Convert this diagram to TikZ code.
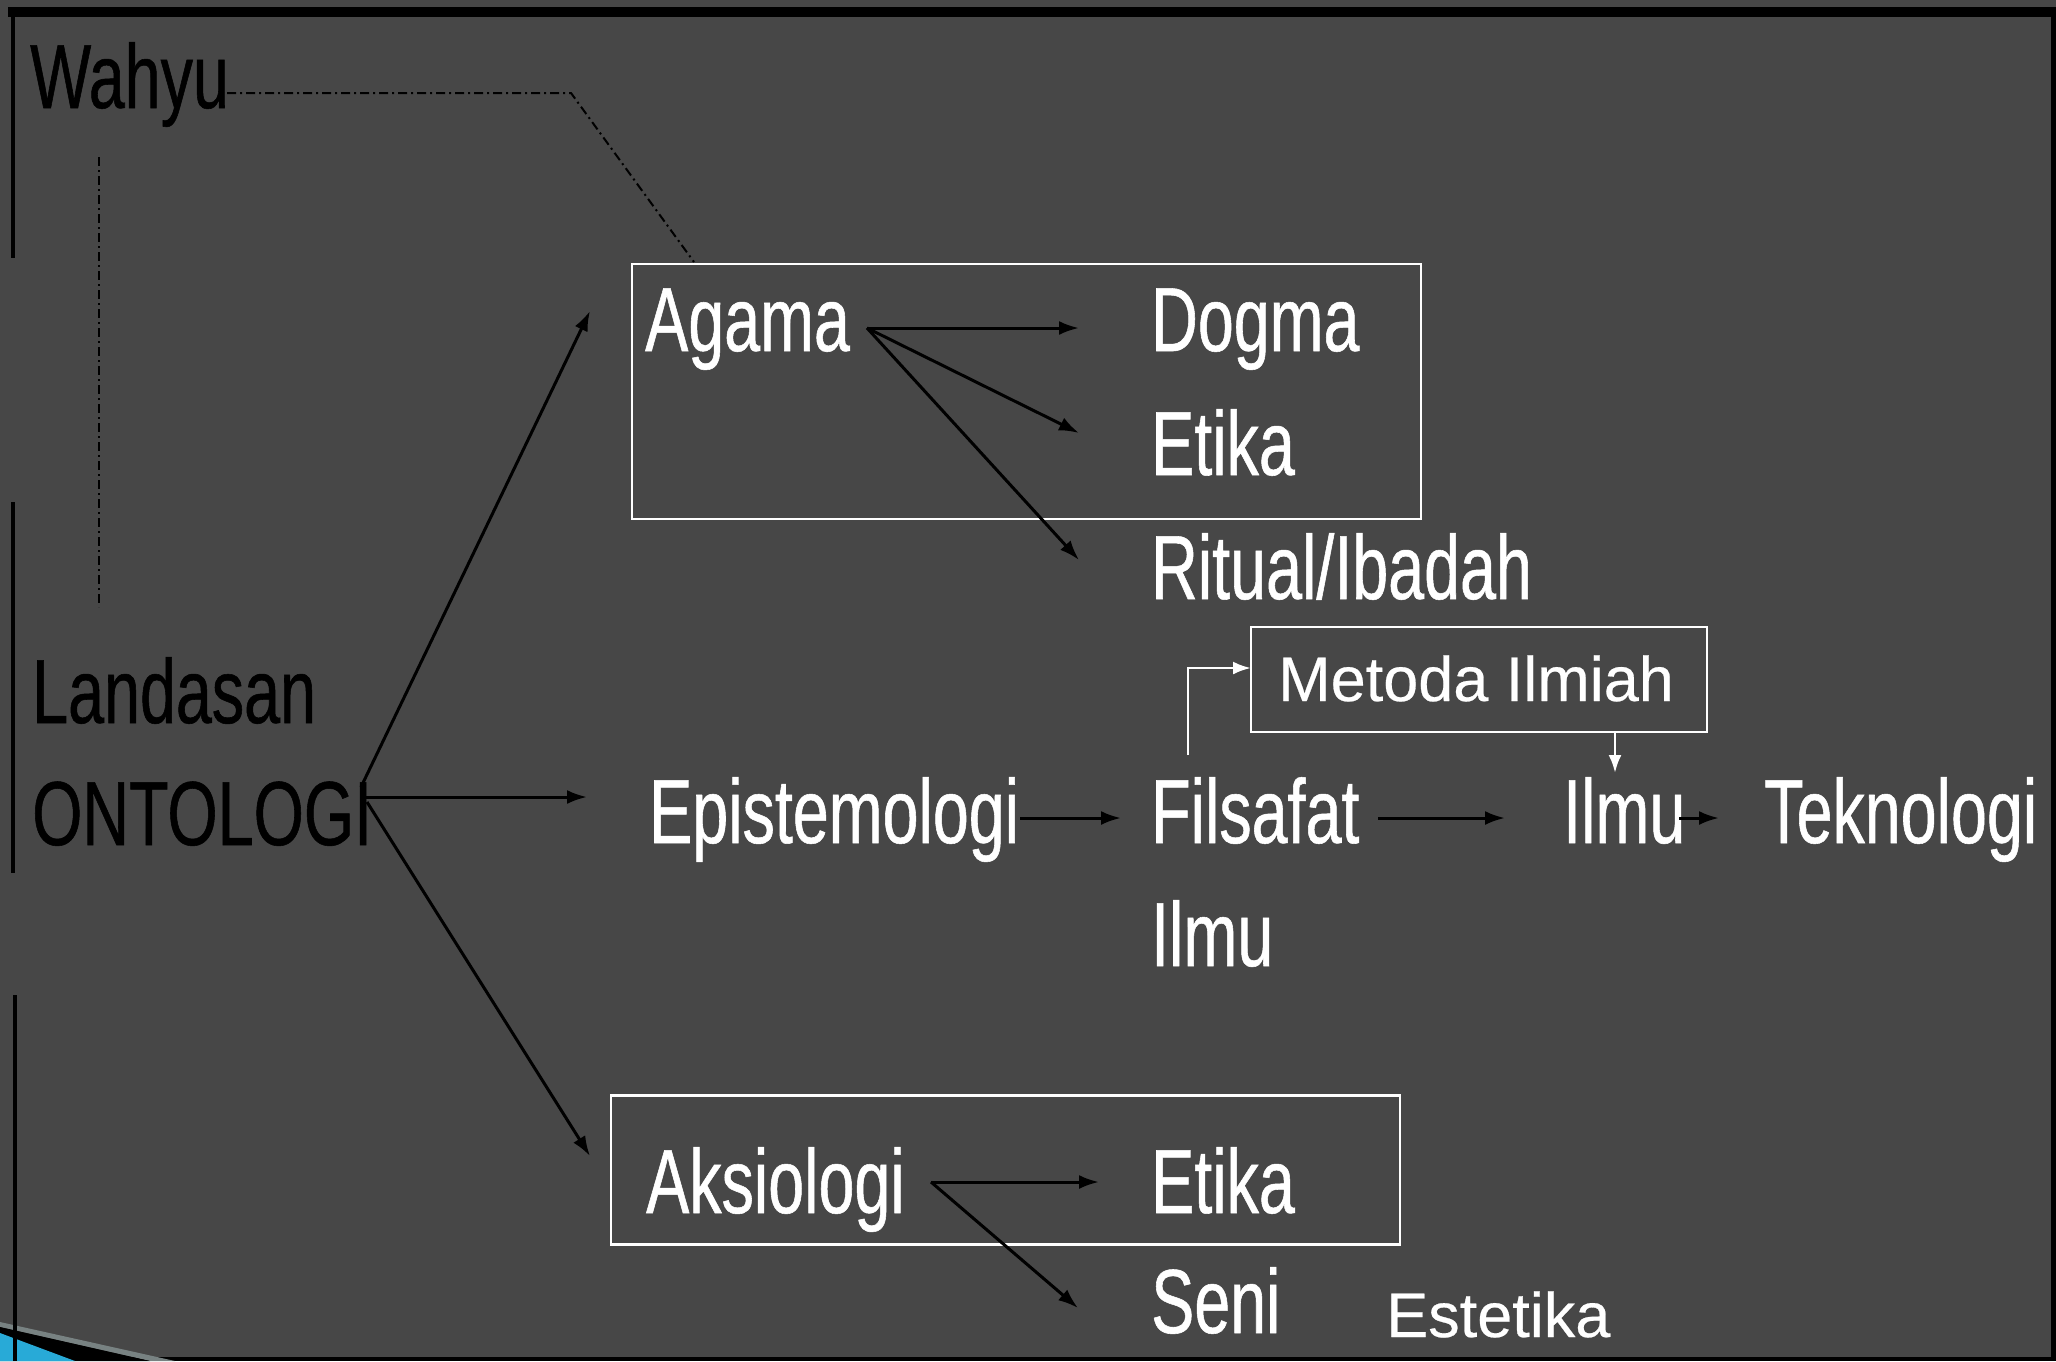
\documentclass[tikz,border=0pt]{standalone}
\usepackage{fontspec}
\usetikzlibrary{arrows.meta}
\newfontfamily\narfont[FakeStretch=0.71,FakeBold=0.6]{Liberation Sans}
\newfontfamily\regfont[FakeBold=0.4]{Liberation Sans}
\definecolor{bg}{RGB}{71,71,71}
\definecolor{cyanc}{RGB}{40,170,215}
\definecolor{edgegray}{RGB}{120,130,130}
\begin{document}
\begin{tikzpicture}[x=1pt,y=-1pt,
  big/.style={anchor=base west, inner sep=0pt, font=\narfont\fontsize{91}{100}\selectfont, text=white},
  bigk/.style={big, text=black},
  small/.style={anchor=base west, inner sep=0pt, font=\regfont\fontsize{63}{70}\selectfont, text=white},
  wbox/.style={draw=white, line width=2.8pt, inner sep=0pt},
  arr/.style={draw=black, line width=3pt, -{Latex[length=20pt,width=14pt]}},
  warr/.style={draw=white, line width=2.8pt, -{Latex[length=18pt,width=13pt]}},
  dd/.style={draw=black, line width=2pt, dash pattern=on 9pt off 4pt on 2pt off 4pt}
]
\useasboundingbox (0,0) rectangle (2056,1361);
\fill[bg] (0,0) rectangle (2056,1361);
% frame bands
\fill[black] (8,7) rectangle (2056,17);
\fill[black] (2051,7) rectangle (2056,1361);
\fill[black] (0,1357) rectangle (2056,1361);
\fill[black] (11,17) rectangle (15,258);
\fill[black] (11,502) rectangle (15,873);
\fill[black] (13,995) rectangle (17,1361);
% corner decoration
\fill[edgegray] (0,1322) -- (175,1361) -- (150,1361) -- (0,1327) -- cycle;
\fill[black] (0,1327) -- (150,1361) -- (0,1361) -- cycle;
\fill[cyanc] (0,1333) -- (75,1361) -- (0,1361) -- cycle;
\fill[black] (13,1320) rectangle (17,1361);

% boxes
\node[wbox, minimum width=789pt, minimum height=255pt] (agbox) at (1026.5,391.5) {};
\node[wbox, minimum width=456pt, minimum height=105pt] (metbox) at (1479,679.5) {};
\node[wbox, minimum width=789pt, minimum height=149pt] (aksbox) at (1005.5,1170) {};

% texts
\node[bigk] (wahyu) at (30,108) {Wahyu};
\node[bigk] (landasan) at (32,723) {Landasan};
\node[bigk] (onto) at (32,845) {ONTOLOGI};
\node[big] (agama) at (645,351) {Agama};
\node[big] (dogma) at (1151,351) {Dogma};
\node[big] (etika1) at (1151,475) {Etika};
\node[big] (ritual) at (1151,599) {Ritual/Ibadah};
\node[big] (episte) at (649,843) {Epistemologi};
\node[big] (filsafat) at (1151,843) {Filsafat};
\node[big] (ilmu2) at (1151,966) {Ilmu};
\node[big] (ilmu) at (1563,843) {Ilmu};
\node[big] (tekno) at (1764,843) {Teknologi};
\node[big] (aksio) at (646,1213) {Aksiologi};
\node[big] (etika2) at (1151,1213) {Etika};
\node[big] (seni) at (1151,1333) {Seni};
\node[small] (estetika) at (1386,1337) {Estetika};
\node[small] (metoda) at (1278,701) {Metoda Ilmiah};

% connector coordinates
\coordinate (oA) at (361,787);
\coordinate (oB) at (362,797);
\coordinate (oC) at (367,802);
\coordinate (agT) at (590,311);
\coordinate (epT) at (587,797);
\coordinate (akT) at (590,1156);
\coordinate (agS) at (867,328);
\coordinate (dgT) at (1079,328);
\coordinate (e1T) at (1079,433);
\coordinate (riT) at (1079,560);
\coordinate (epS) at (1020,818);
\coordinate (fsT) at (1121,818);
\coordinate (fsS) at (1378,818);
\coordinate (ilT) at (1505,818);
\coordinate (ilS) at (1679,818);
\coordinate (tkT) at (1719,818);
\coordinate (fsUp) at (1188,755);
\coordinate (mbIn) at (1251,668);
\coordinate (mbOut) at (1615,732);
\coordinate (ilTop) at (1615,773);
\coordinate (akS) at (931,1182);
\coordinate (e2T) at (1099,1182);
\coordinate (snT) at (1078,1308);
\coordinate (wE) at (227,93);
\coordinate (wK) at (571,93);
\coordinate (agTop) at (694,262);
\coordinate (vTop) at (99,157);
\coordinate (vBot) at (99,607);

% dashed lines
\draw[dd] (wE) -- (wK) -- (agTop);
\draw[dd] (vTop) -- (vBot);

% arrows
\draw[arr] (oA) -- (agT);
\draw[arr] (oB) -- (epT);
\draw[arr] (oC) -- (akT);
\draw[arr] (agS) -- (dgT);
\draw[arr] (agS) -- (e1T);
\draw[arr] (agS) -- (riT);
\draw[arr] (epS) -- (fsT);
\draw[arr] (fsS) -- (ilT);
\draw[arr] (ilS) -- (tkT);
\draw[arr] (akS) -- (e2T);
\draw[arr] (akS) -- (snT);
\draw[warr] (fsUp) |- (mbIn);
\draw[warr] (mbOut) -- (ilTop);
\end{tikzpicture}
\end{document}
